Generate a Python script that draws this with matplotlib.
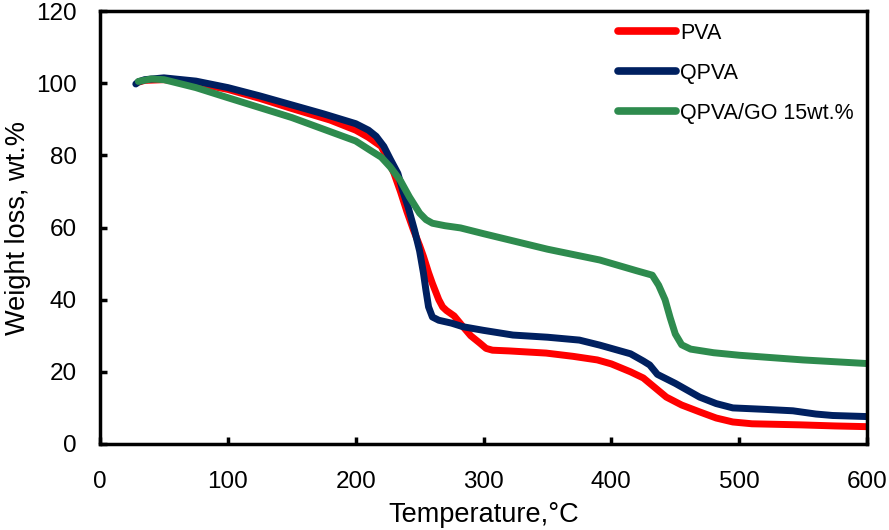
"""TGA curves: PVA, QPVA and QPVA/GO 15wt.%."""

import matplotlib
matplotlib.use("Agg")
import matplotlib.pyplot as plt

plt.rcParams.update({
    "font.family": ["Liberation Sans", "DejaVu Sans"],
    "font.size": 17.5,
})

# PVA
pva_t = [30, 35, 50, 75, 100, 125, 150, 180, 200, 210, 220, 225, 230, 235, 240,
         245, 250, 253, 257, 260, 262, 265, 268, 271, 277, 284, 290, 297, 302,
         307, 320, 349, 370, 389, 400, 415, 425, 443, 455, 469, 482, 495, 510,
         548, 575, 600]
pva_w = [100.3, 100.8, 101.0, 100.0, 98.3, 95.8, 93.0, 89.8, 87.0, 85.0, 82.5,
         79.0, 75.0, 70.0, 64.5, 59.5, 55.0, 52.0, 47.5, 44.5, 42.7, 40.0, 38.0,
         37.0, 35.5, 32.5, 30.0, 28.0, 26.5, 26.0, 25.8, 25.2, 24.3, 23.3, 22.2,
         20.0, 18.3, 13.0, 10.8, 8.9, 7.2, 6.1, 5.6, 5.3, 5.0, 4.8]

# QPVA
qpva_t = [28, 30, 35, 50, 75, 100, 125, 150, 175, 200, 210, 216, 222, 227, 233,
          237, 241, 246, 250, 253, 255, 257, 260, 265, 275, 284, 300, 323, 350,
          375, 391, 405, 415, 425, 430, 436, 450, 469, 482, 495, 520, 542, 560,
          573, 600]
qpva_w = [99.8, 100.4, 101.0, 101.5, 100.6, 98.8, 96.5, 94.0, 91.5, 88.8, 87.0,
          85.3, 82.5, 79.0, 75.0, 70.0, 65.7, 59.3, 53.5, 47.4, 42.5, 38.0, 35.2,
          34.3, 33.5, 32.5, 31.5, 30.2, 29.6, 28.8, 27.4, 26.0, 25.0, 23.0, 21.9,
          19.3, 16.8, 13.0, 11.2, 10.0, 9.6, 9.2, 8.3, 7.9, 7.6]

# QPVA/GO 15wt.%
go_t = [30, 40, 50, 75, 100, 150, 200, 211, 220, 227, 235, 242, 250, 255, 260,
        270, 282, 300, 350, 391, 420, 432, 437, 442, 446, 450, 455, 462, 480,
        500, 550, 600]
go_w = [100.5, 101.2, 101.0, 98.8, 96.0, 90.5, 84.0, 81.5, 79.5, 76.8, 73.0,
        68.5, 64.0, 62.2, 61.2, 60.5, 59.9, 58.3, 54.0, 51.0, 48.0, 46.8, 44.0,
        40.0, 35.0, 30.5, 27.5, 26.3, 25.3, 24.6, 23.3, 22.3]

fig = plt.figure(figsize=(8.89, 5.30), dpi=100)
ax = fig.add_axes([0.1125, 0.1623, 0.8628, 0.8167])

ax.plot(pva_t, pva_w, color="#FF0000", lw=5, solid_capstyle="round",
        solid_joinstyle="round", label="PVA")
ax.plot(qpva_t, qpva_w, color="#002060", lw=5, solid_capstyle="round",
        solid_joinstyle="round", label="QPVA")
ax.plot(go_t, go_w, color="#2E8B4E", lw=5, solid_capstyle="round",
        solid_joinstyle="round", label="QPVA/GO 15wt.%")

ax.set_xlim(0, 600)
ax.set_ylim(0, 120)
ax.set_xticks(range(0, 601, 100))
ax.set_yticks(range(0, 121, 20))
ax.tick_params(direction="in", length=5, width=2.5, labelsize=17.5,
               top=False, right=False)
ax.tick_params(axis="x", pad=19.5)
ax.tick_params(axis="y", pad=16.5)
for s in ax.spines.values():
    s.set_linewidth(2.5)

ax.set_xlabel("Temperature,\u00b0C", fontsize=19.5)
ax.set_ylabel("Weight loss, wt.%", fontsize=19.5)
ax.xaxis.set_label_coords(0.5, -0.134)
ax.yaxis.set_label_coords(-0.09, 0.5)

leg = ax.legend(loc="upper left", bbox_to_anchor=(0.675, 0.973), frameon=False,
                fontsize=15.5, handlelength=2.7, handletextpad=0.19,
                labelspacing=0.88, borderpad=0, borderaxespad=0)
for line in leg.get_lines():
    line.set_linewidth(5.5)

fig.savefig("out.png", dpi=100)
plt.close(fig)
